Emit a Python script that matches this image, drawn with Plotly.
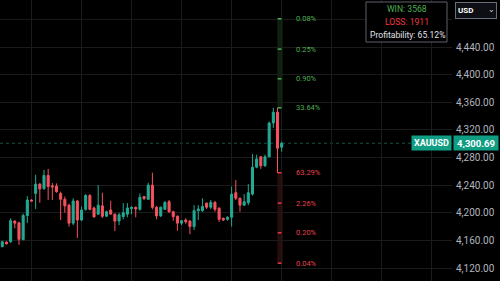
import plotly.graph_objects as go

# ---- data ----
opens  = [4151, 4157.5, 4158, 4188, 4185.5, 4161, 4196, 4218.5, 4228, 4241.5,
          4235, 4254, 4239, 4238.5, 4228, 4219.5, 4211, 4185, 4217, 4189.5,
          4205, 4225, 4207, 4198, 4210, 4195, 4204, 4198, 4188, 4194.5,
          4198, 4206, 4208, 4205, 4223.5, 4219.5, 4240, 4208, 4195.5, 4205,
          4216, 4201.5, 4195, 4185, 4189.5, 4188, 4180, 4203, 4203, 4214,
          4208, 4215, 4206.5, 4192, 4190.5, 4193.5, 4229, 4221, 4211, 4214.5,
          4227, 4266, 4281, 4268, 4281, 4330, 4345.5, 4295]
highs  = [4159.5, 4158.5, 4192, 4189, 4187, 4199, 4224, 4219.5, 4255, 4243,
          4262, 4263.5, 4243, 4242.5, 4230.5, 4223.5, 4213, 4221, 4218.5, 4209,
          4227, 4227, 4209, 4240, 4229, 4203, 4217.5, 4199, 4200, 4214,
          4214, 4209, 4209, 4228, 4223.5, 4243.5, 4258, 4210, 4209, 4217,
          4218.5, 4203, 4196, 4189.5, 4192, 4189.5, 4211, 4211, 4221, 4214.5,
          4218.5, 4217, 4208, 4193, 4195, 4238, 4247.5, 4222, 4227, 4241.5,
          4285, 4284, 4282, 4284, 4332, 4352, 4352, 4303]
lows   = [4150, 4154, 4156.5, 4177.5, 4153.5, 4160.5, 4185, 4216, 4205.5, 4214.5,
          4233, 4218.5, 4218.5, 4229, 4189.5, 4200, 4180, 4182, 4163.5, 4188,
          4203, 4203.5, 4193, 4197, 4192.5, 4194, 4198, 4173.5, 4182, 4190.5,
          4193.5, 4198, 4193.5, 4203, 4218.5, 4218.5, 4205, 4190.5, 4194, 4204,
          4199.5, 4188.5, 4174, 4182, 4184, 4169, 4175, 4189.5, 4201.5, 4205.5,
          4205.5, 4201.5, 4187, 4188, 4188.5, 4180, 4218.5, 4201.5, 4210, 4211,
          4225, 4264.5, 4263.5, 4266.5, 4280.5, 4323, 4257.5, 4288.5]
closes = [4158, 4155, 4188.5, 4185, 4161.5, 4196, 4218.5, 4217, 4241.5, 4234.5,
          4254, 4238, 4237.5, 4230.5, 4219.5, 4210, 4185, 4217, 4189.5, 4204,
          4225, 4205, 4194, 4211, 4195, 4201.5, 4198, 4188, 4197, 4200,
          4207, 4208, 4205.5, 4222.5, 4220.5, 4240, 4208, 4195.5, 4208, 4215,
          4201.5, 4194.5, 4185, 4188.5, 4187, 4180, 4203, 4205.5, 4209, 4208,
          4215, 4205, 4190.5, 4189.5, 4193.5, 4227, 4221, 4211, 4216, 4229,
          4266, 4278, 4268, 4281, 4330, 4345.5, 4293.5, 4300.69]
idx = list(range(len(opens)))

last_price = 4300.69
symbol = "XAUUSD"
y_ticks = [4120, 4160, 4200, 4240, 4280, 4320, 4360, 4400, 4440]
hidden_grid = [4480]  # gridline whose label sits under the currency selector

up_levels = [4481, 4437, 4394, 4352]
up_labels = ["0.08%", "0.25%", "0.90%", "33.64%"]
down_levels = [4258, 4214, 4171, 4127]
down_labels = ["63.29%", "2.26%", "0.20%", "0.04%"]

wins = 3568
losses = 1911
profitability = "65.12%"

# ---- styling ----
UP = "#22ab94"
DOWN = "#f7525f"
GRID = "#1b1b1b"
W, H = 500, 281
R_MARGIN = 48
PW = W - R_MARGIN

def px(x):  # pixel -> paper x
    return x / PW

def py(y):  # pixel -> paper y
    return 1 - y / H

fig = go.Figure()
fig.add_trace(go.Candlestick(
    x=idx, open=opens, high=highs, low=lows, close=closes,
    increasing=dict(line=dict(color=UP, width=1), fillcolor=UP),
    decreasing=dict(line=dict(color=DOWN, width=1), fillcolor=DOWN),
    whiskerwidth=0, hoverinfo="skip", showlegend=False,
))

shapes = []
for g in hidden_grid:
    shapes.append(dict(type="line", xref="paper", yref="y", x0=0, x1=1, y0=g, y1=g,
                       line=dict(color=GRID, width=1), layer="below"))
bar_c, bar_hw = 66.6, 0.65
# indicator bands
shapes.append(dict(type="rect", xref="x", yref="y", x0=bar_c - bar_hw, x1=bar_c + bar_hw,
                   y0=min(up_levels), y1=max(up_levels), fillcolor="rgba(50,120,50,0.28)",
                   line=dict(width=0), layer="below"))
shapes.append(dict(type="rect", xref="x", yref="y", x0=bar_c - bar_hw, x1=bar_c + bar_hw,
                   y0=min(down_levels), y1=max(down_levels), fillcolor="rgba(130,35,35,0.32)",
                   line=dict(width=0), layer="below"))
for lv in up_levels:
    shapes.append(dict(type="line", xref="x", yref="y", x0=bar_c - 0.55, x1=bar_c + 0.35,
                       y0=lv, y1=lv, line=dict(color="#4caf50", width=1.5)))
for lv in down_levels:
    shapes.append(dict(type="line", xref="x", yref="y", x0=bar_c - 0.55, x1=bar_c + 0.35,
                       y0=lv, y1=lv, line=dict(color="#f23645", width=1.5)))
# last price line
shapes.append(dict(type="line", xref="paper", yref="y", x0=0, x1=1, y0=last_price, y1=last_price,
                   line=dict(color="rgba(34,171,148,0.5)", width=1, dash="dot"), layer="below"))
# info box
shapes.append(dict(type="rect", xref="paper", yref="paper", x0=px(366), x1=px(447),
                   y0=py(42), y1=py(2), fillcolor="#000000",
                   line=dict(color="#5d606b", width=1), layer="above"))

annotations = []
lab_x = 70.0
for lv, t in zip(up_levels, up_labels):
    annotations.append(dict(x=lab_x, y=lv, xref="x", yref="y", text=t, showarrow=False,
                            xanchor="left", yanchor="middle",
                            font=dict(family="Roboto", size=7.5, color="#4caf50")))
for lv, t in zip(down_levels, down_labels):
    annotations.append(dict(x=lab_x, y=lv, xref="x", yref="y", text=t, showarrow=False,
                            xanchor="left", yanchor="middle",
                            font=dict(family="Roboto", size=7.5, color="#e8424f")))

info_cx = px(407)
annotations.append(dict(x=info_cx, y=py(9), xref="paper", yref="paper", text=f"WIN: {wins}",
                        showarrow=False, xanchor="center", yanchor="middle",
                        font=dict(family="Roboto", size=8.6, color="#4caf50")))
annotations.append(dict(x=info_cx, y=py(22), xref="paper", yref="paper", text=f"LOSS: {losses}",
                        showarrow=False, xanchor="center", yanchor="middle",
                        font=dict(family="Roboto", size=8.6, color="#f23645")))
annotations.append(dict(x=info_cx, y=py(35), xref="paper", yref="paper",
                        text=f"Profitability: {profitability}",
                        showarrow=False, xanchor="center", yanchor="middle",
                        font=dict(family="Roboto", size=8.6, color="#e0e3eb")))

# symbol + price labels
annotations.append(dict(x=px(452), y=last_price, xref="paper", yref="y", text=f"<b>{symbol}</b>",
                        showarrow=False, xanchor="right", yanchor="middle", bgcolor="#0f9d84",
                        borderpad=2, width=35, height=10,
                        font=dict(family="Roboto", size=9, color="#ffffff")))
annotations.append(dict(x=px(453), y=last_price, xref="paper", yref="y",
                        text=f"<b>{last_price:,.2f}</b>",
                        showarrow=False, xanchor="left", yanchor="middle", bgcolor="#0f9d84",
                        borderpad=2, width=40, height=10,
                        font=dict(family="Roboto", size=9.5, color="#ffffff")))
# USD dropdown
annotations.append(dict(x=px(455), y=py(2), xref="paper", yref="paper", text="<b>USD</b>",
                        showarrow=False, xanchor="left", yanchor="top", align="left",
                        valign="middle",
                        bgcolor="#0d0f14", bordercolor="#6a6d78", borderwidth=1, borderpad=2,
                        width=36, height=11,
                        font=dict(family="Roboto", size=8, color="#ffffff")))
annotations.append(dict(x=px(492), y=py(9), xref="paper", yref="paper", text="⌄",
                        showarrow=False, xanchor="center", yanchor="middle",
                        font=dict(family="DejaVu Sans", size=8, color="#d1d4dc")))

fig.update_layout(
    width=W, height=H,
    margin=dict(l=0, r=R_MARGIN, t=0, b=0),
    paper_bgcolor="#000000", plot_bgcolor="#000000",
    shapes=shapes, annotations=annotations,
    showlegend=False,
    xaxis=dict(range=[-0.55, 107.85], rangeslider=dict(visible=False), showticklabels=False,
               tickmode="linear", tick0=6.9, dtick=12, showgrid=True, gridcolor=GRID,
               gridwidth=1, zeroline=False, showline=False, ticks=""),
    yaxis=dict(range=[4101.2, 4508.1], side="right", tickmode="array", tickvals=y_ticks,
               tickformat=",.2f", showgrid=True, gridcolor=GRID, gridwidth=1,
               zeroline=False, showline=False, ticks="", ticklabelstandoff=3,
               tickfont=dict(family="Roboto", size=10, color="#b2b5be")),
)

fig.write_html("out.html")
